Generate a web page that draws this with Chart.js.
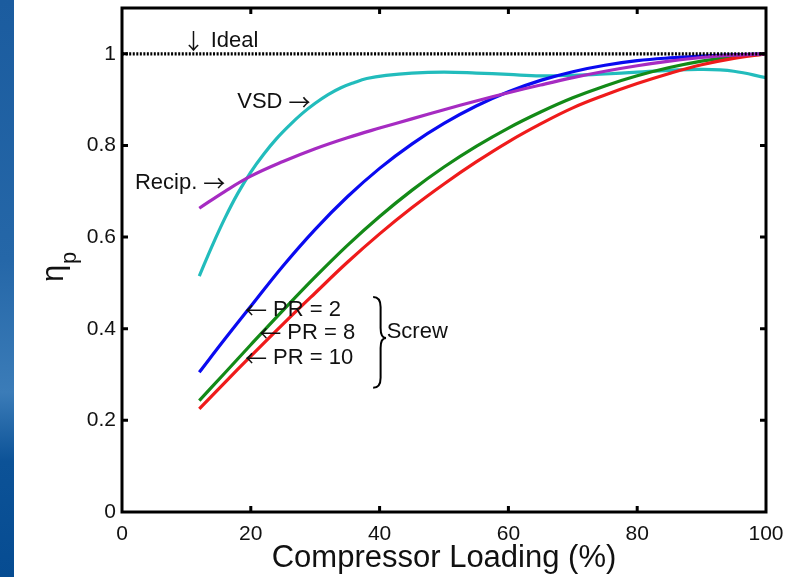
<!DOCTYPE html>
<html>
<head>
<meta charset="utf-8">
<script src="https://cdn.jsdelivr.net/npm/chart.js@4.4.1/dist/chart.umd.min.js"></script>
<style>
  html, body { margin: 0; padding: 0; background: #fff; }
  #wrap { position: relative; width: 792px; height: 577px; }
  #band {
    position: absolute; left: 0; top: 0; width: 14px; height: 577px;
    background: linear-gradient(to bottom, #1b5c9f 0%, #2567a8 45%, #3b7cb8 68%, #0c5297 80%, #064c92 100%);
  }
</style>
</head>
<body>
<div id="wrap">
  <canvas id="myChart" width="792" height="577"></canvas>
  <div id="band"></div>
</div>
<script>
// sumbu x: beban kompresor (%)
const loading = [12, 16, 20, 25, 30, 35, 40, 45, 50, 55, 60, 65, 70, 75, 80, 85, 90, 95, 100];
const loadingVsd = [12, 14, 16, 18, 20, 22, 24, 26, 28, 30, 32, 34, 36, 38, 41, 45, 50, 55, 60, 65, 70, 75, 80, 85, 90, 95, 100];

// nilai efisiensi tiap kurva
const vsd = [0.515, 0.581, 0.642, 0.696, 0.742, 0.781, 0.815, 0.844, 0.87, 0.892, 0.911, 0.926, 0.937, 0.946, 0.953, 0.958, 0.96, 0.958, 0.955, 0.952, 0.953, 0.956, 0.96, 0.964, 0.966, 0.962, 0.948];
const recip = [0.663, 0.7, 0.733, 0.765, 0.793, 0.817, 0.838, 0.858, 0.878, 0.897, 0.915, 0.932, 0.948, 0.962, 0.974, 0.984, 0.992, 0.997, 1.0];
const pr2 = [0.305, 0.378, 0.449, 0.537, 0.617, 0.688, 0.75, 0.803, 0.848, 0.886, 0.917, 0.942, 0.961, 0.975, 0.985, 0.991, 0.995, 0.998, 1.0];
const pr8 = [0.243, 0.304, 0.365, 0.44, 0.513, 0.582, 0.645, 0.702, 0.753, 0.798, 0.838, 0.873, 0.904, 0.93, 0.952, 0.97, 0.984, 0.994, 1.0];
const pr10 = [0.225, 0.283, 0.34, 0.41, 0.478, 0.545, 0.607, 0.664, 0.716, 0.764, 0.808, 0.847, 0.882, 0.91, 0.935, 0.957, 0.976, 0.99, 1.0];
const idealX = [0, 100];
const idealY = [1, 1];

// tick label
const xTicks = [0, 20, 40, 60, 80, 100];
const yTicks = [0, 0.2, 0.4, 0.6, 0.8, 1];

// teks anotasi (koordinat data)
const notes = [
  { text: "\u2193 Ideal", x: 9.4, y: 1.028 },
  { text: "VSD \u2192", x: 17.9, y: 0.895 },
  { text: "Recip. \u2192", x: 2.0, y: 0.718 },
  { text: "\u2190 PR = 2", x: 19.1, y: 0.441 },
  { text: "\u2190 PR = 8", x: 21.3, y: 0.391 },
  { text: "\u2190 PR = 10", x: 19.1, y: 0.336 },
  { text: "Screw", x: 41.1, y: 0.393 }
];
const brace = { x: 39, yTop: 0.469, yBottom: 0.271, yMid: 0.38, tipX: 41 };

const FONT = "'Liberation Sans', Arial, Helvetica, sans-serif";
const ARROW_FONT = "'Noto Sans CJK JP', 'DejaVu Sans', sans-serif";

function pts(xs, ys) {
  return xs.map((x, i) => ({ x: x, y: ys[i] }));
}

function line(label, xs, ys, color, dash) {
  return {
    label: label,
    data: pts(xs, ys),
    borderColor: color,
    borderWidth: 3.2,
    borderDash: dash || [],
    pointRadius: 0,
    fill: false,
    tension: 0.4
  };
}

// tulis teks, panah pakai font yang panahnya lebih panjang
function drawNote(ctx, text, x, y) {
  let cx = x;
  for (const ch of text) {
    const isArrow = "\u2190\u2191\u2192\u2193".includes(ch);
    ctx.font = "22px " + (isArrow ? ARROW_FONT : FONT);
    ctx.fillText(ch, cx, y);
    cx += ctx.measureText(ch).width;
  }
}

// plugin untuk bingkai, tick ke dalam, anotasi
const decor = {
  id: "decor",
  afterDatasetsDraw(chart) {
    const ctx = chart.ctx;
    const a = chart.chartArea;
    const sx = chart.scales.x, sy = chart.scales.y;
    ctx.save();
    ctx.strokeStyle = "#000";
    ctx.lineWidth = 3;
    ctx.strokeRect(a.left, a.top, a.right - a.left, a.bottom - a.top);

    // tick marks di dalam kotak
    const tl = 6;
    ctx.beginPath();
    xTicks.slice(1, -1).forEach(v => {
      const px = sx.getPixelForValue(v);
      ctx.moveTo(px, a.bottom); ctx.lineTo(px, a.bottom - tl);
      ctx.moveTo(px, a.top); ctx.lineTo(px, a.top + tl);
    });
    yTicks.slice(1).forEach(v => {
      const py = sy.getPixelForValue(v);
      ctx.moveTo(a.left, py); ctx.lineTo(a.left + tl, py);
      ctx.moveTo(a.right, py); ctx.lineTo(a.right - tl, py);
    });
    ctx.stroke();

    // anotasi
    ctx.fillStyle = "#111";
    ctx.textBaseline = "middle";
    ctx.textAlign = "left";
    notes.forEach(n => {
      drawNote(ctx, n.text, sx.getPixelForValue(n.x), sy.getPixelForValue(n.y));
    });

    // kurung kurawal
    const bx = sx.getPixelForValue(brace.x);
    const tx = sx.getPixelForValue(brace.tipX);
    const yt = sy.getPixelForValue(brace.yTop);
    const yb = sy.getPixelForValue(brace.yBottom);
    const ym = sy.getPixelForValue(brace.yMid);
    const mx = (bx + tx) / 2 + 1;
    ctx.lineWidth = 2;
    ctx.beginPath();
    ctx.moveTo(bx, yt);
    ctx.quadraticCurveTo(mx, yt, mx, yt + 10);
    ctx.lineTo(mx, ym - 10);
    ctx.quadraticCurveTo(mx, ym, tx, ym);
    ctx.quadraticCurveTo(mx, ym, mx, ym + 10);
    ctx.lineTo(mx, yb - 10);
    ctx.quadraticCurveTo(mx, yb, bx, yb);
    ctx.stroke();

    // judul sumbu y: eta_p
    ctx.translate(63, 268);
    ctx.rotate(-Math.PI / 2);
    ctx.textAlign = "left";
    ctx.textBaseline = "alphabetic";
    ctx.font = "31px " + FONT;
    ctx.fillStyle = "#111";
    ctx.fillText("\u03b7", -14, 0);
    ctx.font = "22px " + FONT;
    ctx.fillText("p", 4, 13);
    ctx.restore();
  }
};

const ctx = document.getElementById("myChart").getContext("2d");
new Chart(ctx, {
  type: "line",
  data: {
    datasets: [
      line("Ideal", idealX, idealY, "#000", [2, 1.5]),
      line("Recip.", loading, recip, "#a62bc2"),
      line("PR = 10", loading, pr10, "#ef1b1b"),
      line("PR = 8", loading, pr8, "#138a17"),
      line("PR = 2", loading, pr2, "#0a0af0"),
      line("VSD", loadingVsd, vsd, "#22bcbc")
    ]
  },
  options: {
    responsive: false,
    animation: false,
    layout: { padding: { left: 0, right: 26, top: 8, bottom: 0 } },
    plugins: {
      legend: { display: false },
      tooltip: { enabled: false }
    },
    scales: {
      x: {
        type: "linear",
        min: 0, max: 100,
        afterBuildTicks: s => { s.ticks = xTicks.map(v => ({ value: v })); },
        afterFit: s => { s.height = 65; s.paddingLeft = 0; s.paddingRight = 0; },
        grid: { display: false, drawTicks: false },
        border: { display: false },
        ticks: { color: "#111", font: { family: FONT, size: 21 }, padding: 10, maxRotation: 0 },
        title: {
          display: true,
          text: "Compressor Loading (%)",
          color: "#111",
          font: { family: FONT, size: 31 },
          padding: { top: 0, bottom: 0 }
        }
      },
      y: {
        min: 0, max: 1.1,
        afterBuildTicks: s => { s.ticks = yTicks.map(v => ({ value: v })); },
        afterFit: s => { s.width = 122; s.paddingTop = 0; s.paddingBottom = 0; },
        grid: { display: false, drawTicks: false },
        border: { display: false },
        ticks: {
          color: "#111",
          font: { family: FONT, size: 21 },
          padding: 6,
          callback: v => String(v)
        }
      }
    }
  },
  plugins: [decor]
});
</script>
</body>
</html>
